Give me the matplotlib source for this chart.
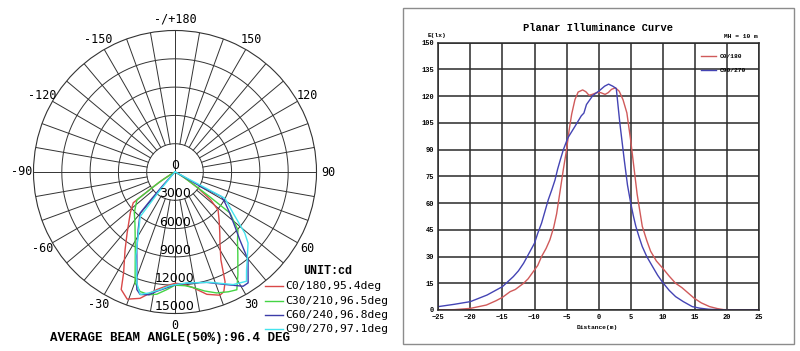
import numpy as np
import matplotlib
matplotlib.use('Agg')
import matplotlib.pyplot as plt
from matplotlib.lines import Line2D
from matplotlib.patches import Rectangle

# ---- polar luminous intensity (gamma deg, negative side = C180/C210/C240/C270), cd ----
c0_gamma = [-90, -66, -61, -58, -55.7, -53.6, -47.7, -38.2, -32.7, -27, -24.6, -20.6, -15.5, -8.7, -3, 0,
            4, 8.8, 14.6, 20, 22.2, 24.5, 27.6, 32, 36.4, 42, 48.5, 52, 55, 58, 62, 70, 90]
c0_cd = [0, 0, 400, 1500, 2800, 5500, 6400, 8200, 9800, 12000, 13700, 14400, 13900, 12600, 12000, 11800,
         11900, 12400, 13400, 13900, 13700, 12800, 10500, 9000, 8000, 7000, 6100, 4800, 3000, 1500, 500, 0, 0]

c30_gamma = [-90, -64, -60, -57, -53.8, -45, -38, -33.3, -26, -19.8, -16.3, -12, -8.5, -4, 0,
             5, 9, 14, 19, 24, 27.7, 31.5, 37.9, 42, 47.4, 53.3, 54.5, 56, 59, 64, 70, 90]
c30_cd = [0, 0, 500, 2000, 5000, 6100, 6900, 7700, 9600, 12500, 13200, 13300, 13100, 12500, 12000,
          12100, 12400, 13000, 13560, 13900, 14100, 12760, 10840, 9900, 9060, 7250, 4500, 2500, 1000, 200, 0, 0]

c60_gamma = [-90, -50, -44, -42, -41, -40.3, -32.5, -26.2, -21.3, -18, -15.9, -12, -8.7, -4, 0,
             7.7, 16, 24.6, 30.8, 33.4, 36.8, 39.8, 43.7, 48, 53.1, 58, 62.1, 61.5, 60.5, 61, 65, 90]
c60_cd = [0, 0, 300, 2000, 4000, 5720, 7270, 9180, 11120, 13100, 13500, 13300, 12790, 12300, 11950,
          11870, 12170, 13130, 14100, 14080, 12930, 12100, 9940, 8500, 7260, 6300, 5580, 4300, 3060, 1500, 300, 0]

c90_gamma = [-90, -48, -42, -39.5, -38, -30.9, -25, -19, -15.9, -12, -7.2, -3, 0,
             6, 17.5, 27.3, 33.2, 36, 39.5, 45.8, 48.8, 54.7, 62.2, 62.5, 63, 66, 90]
c90_cd = [0, 0, 500, 2500, 6000, 7550, 9800, 12430, 13500, 13100, 12570, 12100, 11950,
          11830, 12260, 13430, 13840, 12900, 12040, 10800, 9830, 7550, 5970, 3000, 1000, 200, 0]

polar_names = ['C0/180,95.4deg', 'C30/210,96.5deg', 'C60/240,96.8deg', 'C90/270,97.1deg']
polar_colors = ['#d94848', '#44d444', '#3c3ca8', '#44e4ee']
ring_values = [3000, 6000, 9000, 12000, 15000]
angle_ticks = [180, 150, 120, 90, 60, 30, 0, -30, -60, -90, -120, -150]
angle_texts = ['-/+180', '150', '120', '90', '60', '30', '0', '-30', '-60', '-90', '-120', '-150']

# ---- planar illuminance, MH = 10 m ----
dist_c0 = [-25, -22.5, -20, -17.5, -16, -15, -13.8, -13, -11.7, -11, -10, -9.5, -8.9, -8.2, -7.6, -7.0,
           -6.55, -6.0, -5.5, -5.0, -4.6, -4.2, -3.7, -3.2, -2.5, -2.0, -1.5, -1.0, -0.3, 0.3, 1.0, 1.5,
           2.0, 2.6, 3.2, 3.8, 4.4, 5.0, 5.5, 6.0, 6.8, 7.5, 8.1, 9, 10, 11, 12, 13, 14.9, 16, 17.3,
           18.5, 19.5, 25]
lux_c0 = [0, 0.2, 0.9, 2.8, 5.2, 7.1, 10.3, 11.5, 15, 17.5, 22.5, 25, 30, 34.5, 39.4, 46.5,
          54, 67, 79, 90, 101, 110, 118, 122.3, 123.5, 122.5, 120.5, 121, 122, 122, 121, 122,
          123.8, 124.7, 122.8, 118, 110.6, 95, 80, 65, 47, 39, 33, 27.5, 23.4, 19, 15, 12.5, 6.6, 4, 1.9,
          0.8, 0.2, 0]

dist_c90 = [-25, -22.5, -20, -17.4, -15, -13.3, -12.5, -11.7, -10, -9.5, -8.9, -8.4, -7.85, -7.3, -6.8,
            -6.4, -6.0, -5.5, -4.8, -3.7, -2.7, -2.3, -1.9, -0.9, 0.15, 0.93, 1.55, 2.2, 2.75, 3.3, 4.0,
            4.5, 4.8, 5.0, 5.4, 5.8, 6.3, 6.8, 7.5, 8.4, 9.2, 10, 11, 12, 13.2, 14.6, 15.8, 17.2, 20, 25]
lux_c90 = [1.9, 3.2, 4.7, 8.4, 13.1, 18.75, 22, 26.25, 37.5, 43, 48.75, 55, 61.9, 67.5, 73,
           79, 84, 90, 96.6, 103, 109, 110.5, 115.3, 120.4, 123.2, 125.6, 126.75, 125.6, 124.3, 105, 84,
           70, 64, 60, 53, 46.9, 41, 35.6, 30, 24.4, 19.5, 15.4, 11, 7.5, 4.7, 1.9, 1, 0.4, 0, 0]

W, H = 800, 351
mono = 'Liberation Mono'


def fx(x):
    return x / W


def fy(y):
    return 1 - y / H


fig = plt.figure(figsize=(8, 3.51), dpi=100)

# ================= polar chart =================
ax = fig.add_axes([fx(175 - 141.5), fy(172 + 141.5), 283 / W, 283 / H], projection='polar')
ax.set_theta_zero_location('S')
ax.set_theta_direction(1)
ax.set_ylim(0, 15000)
ax.set_xticks([])
ax.set_yticks([])
ax.grid(False)
ax.spines['polar'].set_linewidth(0.8)
ax.spines['polar'].set_color('#333333')

grid_kw = dict(color='#333333', lw=0.7, zorder=1)
th = np.linspace(0, 2 * np.pi, 361)
for rv in ring_values[:-1]:
    ax.plot(th, np.full_like(th, rv), **grid_kw)
for a in range(0, 360, 10):
    t = np.deg2rad(a)
    r0 = 0 if a % 90 == 0 else 3000
    ax.plot([t, t], [r0, 15000], **grid_kw)

for rv in [0] + ring_values:
    ax.text(0, rv, str(rv), ha='center', va='bottom', fontsize=9, family='DejaVu Sans', zorder=5)

for a, s in zip(angle_ticks, angle_texts):
    ax.text(np.deg2rad(a), 16250, s, ha='center', va='center', fontsize=8.5,
            family='DejaVu Sans Mono', clip_on=False)

for g, cd, c in zip([c0_gamma, c30_gamma, c60_gamma, c90_gamma],
                    [c0_cd, c30_cd, c60_cd, c90_cd], polar_colors):
    ax.plot(np.deg2rad(g), cd, color=c, lw=1.0, zorder=3)

fig.text(fx(328), fy(271), 'UNIT:cd', ha='center', va='center', fontsize=8.5,
         family=mono, weight='bold')
for i, (name, c) in enumerate(zip(polar_names, polar_colors)):
    yy = [286, 300.7, 314.5, 329.3][i]
    fig.add_artist(Line2D([fx(265), fx(283)], [fy(yy), fy(yy)], color=c, lw=1.0))
    fig.text(fx(285), fy(yy), name, ha='left', va='center', fontsize=8.2, family='DejaVu Sans Mono')

fig.text(fx(50), fy(337.5), 'AVERAGE BEAM ANGLE(50%):96.4 DEG', ha='left', va='center',
         fontsize=9, family=mono, weight='bold')

# ================= planar illuminance chart =================
fig.add_artist(Rectangle((fx(403), fy(344)), 391 / W, 336 / H, transform=fig.transFigure,
                         fill=False, edgecolor='#8c8c8c', lw=1.0))

ax2 = fig.add_axes([fx(438.3), fy(310), 320.7 / W, 267.3 / H])
ax2.set_xlim(-25, 25)
ax2.set_ylim(0, 150)
ax2.set_xticks(range(-25, 26, 5))
ax2.set_yticks(range(0, 151, 15))
ax2.grid(True, color='#2a2a2a', lw=1.1)
ax2.set_axisbelow(True)
ax2.tick_params(length=0, pad=3)
for lab in ax2.get_xticklabels() + ax2.get_yticklabels():
    lab.set_fontsize(5)
    lab.set_family(mono)
    lab.set_weight('bold')
for sp in ax2.spines.values():
    sp.set_color('#2a2a2a')
    sp.set_linewidth(1.1)

ax2.plot(dist_c0, lux_c0, color='#d05a5a', lw=1.0)
ax2.plot(dist_c90, lux_c90, color='#4444b4', lw=1.0)

fig.text(fx(598), fy(28), 'Planar Illuminance Curve', ha='center', va='center', fontsize=7.5,
         family=mono, weight='bold')
fig.text(fx(437), fy(36), 'E(lx)', ha='center', va='center', fontsize=4.5, family=mono, weight='bold')
fig.text(fx(758), fy(36), 'MH = 10 m', ha='right', va='center', fontsize=4.5, family=mono, weight='bold')
fig.text(fx(597), fy(328), 'Distance(m)', ha='center', va='center', fontsize=4.5, family=mono, weight='bold')

fig.add_artist(Line2D([fx(701), fx(716)], [fy(56), fy(56)], color='#d05a5a', lw=1.0))
fig.text(fx(720), fy(56), 'C0/180', ha='left', va='center', fontsize=4.5, family=mono, weight='bold')
fig.add_artist(Line2D([fx(701), fx(716)], [fy(70), fy(70)], color='#4444b4', lw=1.0))
fig.text(fx(720), fy(70), 'C90/270', ha='left', va='center', fontsize=4.5, family=mono, weight='bold')

fig.savefig('out.png', dpi=100)
